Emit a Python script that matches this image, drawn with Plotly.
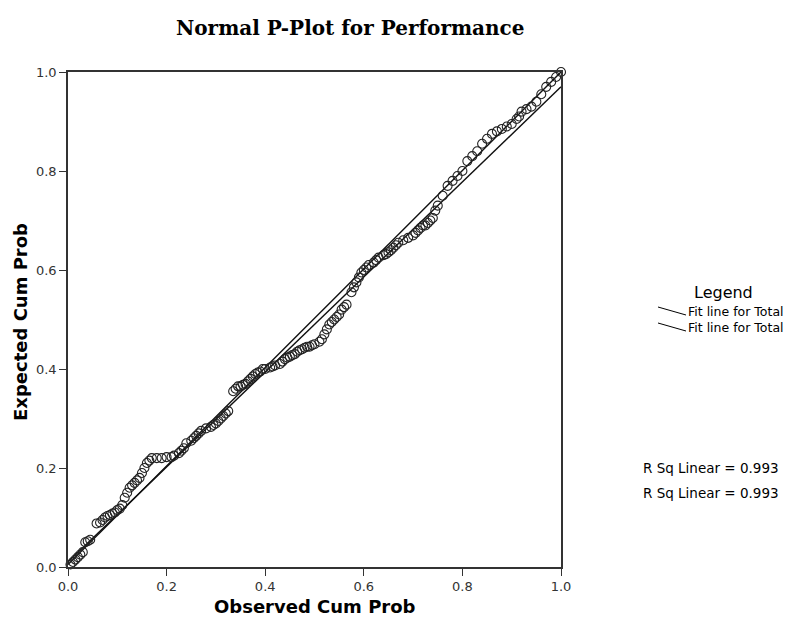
import plotly.graph_objects as go

# Observed vs expected cumulative probabilities
observed = [0.005, 0.01, 0.015, 0.02, 0.025, 0.03, 0.035, 0.04, 0.045,
            0.058, 0.065, 0.07, 0.075, 0.08, 0.085, 0.09, 0.095, 0.10, 0.105,
            0.11, 0.115, 0.12, 0.125, 0.13, 0.135, 0.14, 0.145,
            0.15, 0.155, 0.16, 0.165, 0.17, 0.18, 0.19, 0.20, 0.21, 0.215,
            0.225, 0.23, 0.235, 0.24, 0.25, 0.255, 0.26, 0.265, 0.27, 0.28,
            0.29, 0.295, 0.30, 0.305, 0.31, 0.315, 0.32, 0.325,
            0.335, 0.34, 0.345, 0.35, 0.355, 0.36, 0.365, 0.37, 0.375, 0.38,
            0.385, 0.39, 0.395, 0.40, 0.41, 0.415, 0.42, 0.43, 0.435, 0.44,
            0.445, 0.45, 0.455, 0.46, 0.465, 0.47, 0.475, 0.48, 0.485, 0.49,
            0.495, 0.50, 0.51, 0.515, 0.52, 0.525, 0.53, 0.535, 0.54, 0.545,
            0.55, 0.555, 0.56, 0.565, 0.575, 0.58, 0.585, 0.59, 0.595, 0.60,
            0.605, 0.61, 0.62, 0.625, 0.63, 0.64, 0.645, 0.65, 0.655, 0.66,
            0.665, 0.67, 0.68, 0.69, 0.70, 0.705, 0.71, 0.715, 0.72, 0.725,
            0.73, 0.735, 0.74, 0.745, 0.75, 0.76, 0.77, 0.78, 0.79, 0.80,
            0.81, 0.82, 0.83, 0.84, 0.85, 0.86, 0.87, 0.88, 0.89, 0.90,
            0.91, 0.915, 0.92, 0.93, 0.94, 0.95, 0.96, 0.97, 0.98, 0.99, 1.0]
expected = [0.005, 0.01, 0.015, 0.02, 0.025, 0.03, 0.05, 0.052, 0.055,
            0.088, 0.09, 0.095, 0.10, 0.103, 0.105, 0.108, 0.11, 0.115, 0.118,
            0.125, 0.14, 0.15, 0.16, 0.165, 0.17, 0.175, 0.18,
            0.19, 0.20, 0.21, 0.215, 0.22, 0.22, 0.22, 0.222, 0.222, 0.225,
            0.23, 0.235, 0.24, 0.25, 0.255, 0.26, 0.265, 0.27, 0.275, 0.28,
            0.283, 0.287, 0.29, 0.295, 0.30, 0.305, 0.31, 0.315,
            0.355, 0.36, 0.365, 0.365, 0.368, 0.37, 0.375, 0.38, 0.385, 0.39,
            0.393, 0.395, 0.40, 0.40, 0.403, 0.405, 0.407, 0.41, 0.415, 0.42,
            0.423, 0.425, 0.428, 0.43, 0.435, 0.438, 0.44, 0.443, 0.445, 0.445,
            0.448, 0.45, 0.455, 0.46, 0.47, 0.48, 0.49, 0.495, 0.50, 0.505,
            0.51, 0.52, 0.525, 0.53, 0.555, 0.565, 0.575, 0.585, 0.595, 0.60,
            0.605, 0.61, 0.615, 0.62, 0.625, 0.63, 0.632, 0.636, 0.64, 0.645,
            0.65, 0.655, 0.66, 0.665, 0.67, 0.675, 0.68, 0.685, 0.69, 0.69,
            0.695, 0.70, 0.705, 0.72, 0.73, 0.75, 0.77, 0.78, 0.79, 0.80,
            0.82, 0.83, 0.84, 0.855, 0.865, 0.875, 0.88, 0.885, 0.89, 0.895,
            0.905, 0.91, 0.92, 0.925, 0.93, 0.94, 0.955, 0.97, 0.98, 0.99, 1.0]

# Two fit lines (endpoints at x = 0 and x = 1)
fit_x = [0.0, 1.0]
fit1_y = [0.005, 1.0]
fit2_y = [0.01, 0.97]

ticks = [0.0, 0.2, 0.4, 0.6, 0.8, 1.0]
tick_text = ["0.0", "0.2", "0.4", "0.6", "0.8", "1.0"]
rsq_labels = ["R Sq Linear = 0.993", "R Sq Linear = 0.993"]
legend_labels = ["Fit line for Total", "Fit line for Total"]

fig = go.Figure()
fig.add_trace(go.Scatter(x=fit_x, y=fit1_y, mode="lines",
                         line=dict(color="#111111", width=1.4), showlegend=False))
fig.add_trace(go.Scatter(x=fit_x, y=fit2_y, mode="lines",
                         line=dict(color="#111111", width=1.4), showlegend=False))
fig.add_trace(go.Scatter(x=observed, y=expected, mode="markers",
                         marker=dict(symbol="circle-open", size=9,
                                     color="#222222", line=dict(width=1.1)),
                         showlegend=False, cliponaxis=False))

W, H = 789, 626
L, R, T, B = 68, 228, 72, 59
pw, ph = W - L - R, H - T - B

def px(x):
    return (x - L) / pw

def py(y):
    return (H - B - y) / ph

def text_ann(text, x, y, size, family="DejaVu Sans", xanchor="center", angle=0):
    return dict(text=text, x=px(x), y=py(y), xanchor=xanchor, yanchor="middle",
                xref="paper", yref="paper", showarrow=False, textangle=angle,
                font=dict(family=family, size=size, color="black"))

ann = [
    text_ann("<b>Normal P-Plot for Performance</b>", 350, 28, 20, family="DejaVu Serif"),
    text_ann("<b>Observed Cum Prob</b>", 315, 606, 18),
    text_ann("<b>Expected Cum Prob</b>", 20, 322, 18, angle=-90),
    text_ann("Legend", 692, 292, 16, xanchor="left"),
]
shapes = []
for i, lab in enumerate(legend_labels):
    yy = 311 + 16 * i
    ann.append(text_ann(lab, 686, yy, 12.5, xanchor="left"))
    shapes.append(dict(type="line", xref="paper", yref="paper",
                       x0=px(658), y0=py(yy - 4), x1=px(686), y1=py(yy + 4),
                       line=dict(color="black", width=1)))
for i, lab in enumerate(rsq_labels):
    ann.append(text_ann(lab, 641, 468 + 25 * i, 13.5, xanchor="left"))

axis_common = dict(range=[0, 1], tickvals=ticks, ticktext=tick_text,
                   ticks="outside", ticklen=7, tickcolor="#333333",
                   showline=True, linecolor="#333333", linewidth=1.5,
                   mirror=True, showgrid=False, zeroline=False,
                   tickfont=dict(family="DejaVu Sans", size=13, color="#333333"))

fig.update_layout(
    width=W, height=H,
    margin=dict(l=L, r=R, t=T, b=B, autoexpand=False),
    paper_bgcolor="white", plot_bgcolor="white",
    xaxis=dict(**axis_common),
    yaxis=dict(**axis_common),
    annotations=ann, shapes=shapes,
    showlegend=False,
)
fig.write_html("out.html", config={"displayModeBar": False},
               post_script="document.body.style.margin='0';document.body.style.overflow='hidden';")
